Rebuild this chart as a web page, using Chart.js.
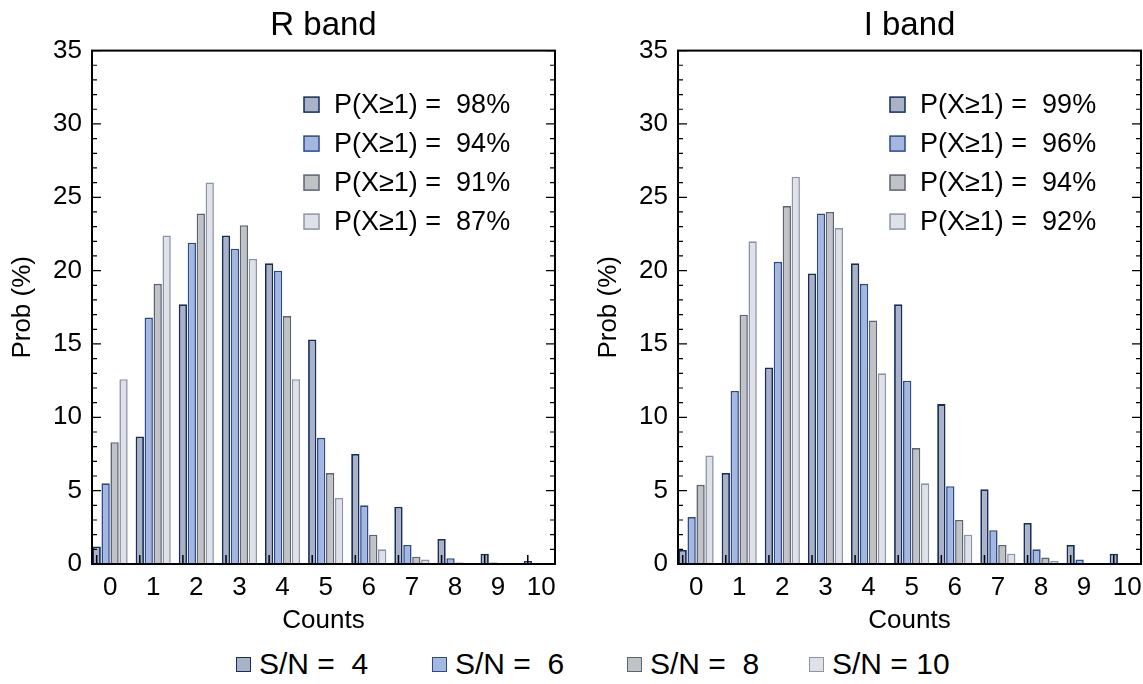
<!DOCTYPE html>
<html lang="en">
<head>
    <meta charset="UTF-8">
    <title>R band / I band counts</title>
    <script src="https://cdn.jsdelivr.net/npm/chart.js"></script>
    <style>
        body {
            margin: 0;
            width: 1143px;
            height: 684px;
            background-color: #fff;
            position: relative;
            overflow: hidden;
            font-family: "Liberation Sans", Arial, Helvetica, sans-serif;
        }
        canvas {
            position: absolute;
            top: 0;
        }
        #chartR { left: 0; }
        #chartI { left: 586px; }
        .legend-item {
            position: absolute;
            top: 646px;
            height: 36px;
            display: flex;
            align-items: center;
            font-size: 30px;
            white-space: pre;
            color: #000;
        }
        .legend-item span.box {
            display: inline-block;
            width: 13px;
            height: 13px;
            border: 1.5px solid;
            margin-right: 8px;
        }
    </style>
</head>
<body>
    <canvas id="chartR" width="575" height="640"></canvas>
    <canvas id="chartI" width="575" height="640"></canvas>
    <div id="legend"></div>

    <script>
        // Dados
        const counts = [0, 1, 2, 3, 4, 5, 6, 7, 8, 9, 10];
        const snLabels = ['S/N =  4', 'S/N =  6', 'S/N =  8', 'S/N = 10'];

        // R band
        const rSn4 = [1.2, 8.7, 17.7, 22.4, 20.5, 15.3, 7.5, 3.9, 1.7, 0.7, 0.2];
        const rSn6 = [5.5, 16.8, 21.9, 21.5, 20.0, 8.6, 4.0, 1.3, 0.4, 0.1, 0.05];
        const rSn8 = [8.3, 19.1, 23.9, 23.1, 16.9, 6.2, 2.0, 0.5, 0.1, 0.02, 0];
        const rSn10 = [12.6, 22.4, 26.0, 20.8, 12.6, 4.5, 1.0, 0.3, 0.05, 0, 0];
        const rProb = ['98%', '94%', '91%', '87%'];

        // I band
        const iSn4 = [0.95, 6.2, 13.4, 19.8, 20.5, 17.7, 10.9, 5.1, 2.8, 1.3, 0.7];
        const iSn6 = [3.2, 11.8, 20.6, 23.9, 19.1, 12.5, 5.3, 2.3, 1.0, 0.3, 0.05];
        const iSn8 = [5.4, 17.0, 24.4, 24.0, 16.6, 7.9, 3.0, 1.3, 0.45, 0.05, 0];
        const iSn10 = [7.4, 22.0, 26.4, 22.9, 13.0, 5.5, 2.0, 0.7, 0.2, 0, 0];
        const iProb = ['99%', '96%', '94%', '92%'];

        const yTicks = [0, 5, 10, 15, 20, 25, 30, 35];

        const fills = ['#a9b2c6', '#a3b7e0', '#c1c2c6', '#dfe1e8'];
        const borders = ['#152d5c', '#2b4a8c', '#5b6375', '#8e94a8'];
        const borderWidths = [1.8, 1.6, 1.6, 1.6];

        const fontFamily = '"Liberation Sans", Arial, Helvetica, sans-serif';
        Chart.defaults.font.family = fontFamily;
        Chart.defaults.color = '#000';

        // moldura, ticks internos e legenda interna
        const framePlugin = {
            id: 'frame',
            afterDatasetsDraw(chart, args, opts) {
                const ctx = chart.ctx;
                const a = chart.chartArea;
                const y = chart.scales.y;
                ctx.save();
                ctx.strokeStyle = '#000';
                ctx.lineWidth = 1.2;
                for (let v = 0; v <= 35; v++) {
                    const py = y.getPixelForValue(v);
                    const len = v % 5 === 0 ? 9 : 5;
                    ctx.beginPath();
                    ctx.moveTo(a.left, py);
                    ctx.lineTo(a.left + len, py);
                    ctx.moveTo(a.right, py);
                    ctx.lineTo(a.right - len, py);
                    ctx.stroke();
                }
                // ticks do eixo x no centro da primeira barra de cada grupo
                const first = chart.getDatasetMeta(0).data;
                ctx.lineWidth = 1.5;
                first.forEach(bar => {
                    ctx.beginPath();
                    ctx.moveTo(bar.x, a.bottom);
                    ctx.lineTo(bar.x, a.bottom - 9);
                    ctx.stroke();
                });
                ctx.lineWidth = 2;
                ctx.strokeRect(a.left, a.top, a.right - a.left, a.bottom - a.top);

                // legenda interna
                const x0 = a.right - 251;
                ctx.font = '27px ' + fontFamily;
                ctx.textBaseline = 'middle';
                opts.probs.forEach((p, i) => {
                    const cy = a.top + 54 + i * 39;
                    ctx.fillStyle = fills[i];
                    ctx.fillRect(x0, cy - 7.5, 15, 15);
                    ctx.strokeStyle = borders[i];
                    ctx.lineWidth = 1.5;
                    ctx.strokeRect(x0, cy - 7.5, 15, 15);
                    ctx.fillStyle = '#000';
                    ctx.fillText('P(X\u22651) =  ' + p, x0 + 30, cy + 1);
                });
                ctx.restore();
            }
        };

        function makeChart(id, title, series, probs) {
            const ctx = document.getElementById(id).getContext('2d');
            return new Chart(ctx, {
                type: 'bar',
                data: {
                    datasets: series.map((s, i) => ({
                        label: snLabels[i],
                        data: counts.map((c, k) => ({ x: c, y: s[k] })),
                        backgroundColor: fills[i],
                        borderColor: borders[i],
                        borderWidth: borderWidths[i],
                        categoryPercentage: 0.83,
                        barPercentage: 0.93
                    }))
                },
                options: {
                    responsive: false,
                    animation: false,
                    devicePixelRatio: 1,
                    layout: { padding: { left: 0, right: 20, top: 0, bottom: 0 } },
                    plugins: {
                        legend: { display: false },
                        tooltip: { enabled: false },
                        title: {
                            display: true,
                            text: title,
                            fullSize: false,
                            font: { size: 33, weight: 'normal' },
                            color: '#000',
                            padding: { top: 6, bottom: 5 }
                        },
                        frame: { probs: probs }
                    },
                    scales: {
                        x: {
                            type: 'linear',
                            offset: false,
                            min: -0.42,
                            max: 10.32,
                            grid: { display: false, drawTicks: false, offset: false },
                            border: { display: false },
                            afterBuildTicks: s => { s.ticks = counts.map(v => ({ value: v })); },
                            afterFit: s => { s.height = 76; },
                            ticks: {
                                font: { size: 26 },
                                color: '#000',
                                padding: 8,
                                maxRotation: 0,
                                autoSkip: false
                            },
                            title: {
                                display: true,
                                text: 'Counts',
                                font: { size: 26 },
                                color: '#000',
                                padding: { top: 0, bottom: 4 }
                            }
                        },
                        y: {
                            min: 0,
                            max: 35,
                            grid: { display: false, drawTicks: false },
                            border: { display: false },
                            afterBuildTicks: s => { s.ticks = yTicks.map(v => ({ value: v })); },
                            afterFit: s => { s.width = 92; },
                            ticks: {
                                font: { size: 26 },
                                color: '#000',
                                padding: 10
                            },
                            title: {
                                display: true,
                                text: 'Prob (%)',
                                font: { size: 26 },
                                color: '#000',
                                padding: { top: 7, bottom: 0 }
                            }
                        }
                    }
                },
                plugins: [framePlugin]
            });
        }

        makeChart('chartR', 'R band', [rSn4, rSn6, rSn8, rSn10], rProb);
        makeChart('chartI', 'I band', [iSn4, iSn6, iSn8, iSn10], iProb);

        // legenda inferior
        const legendPos = [236, 432, 627, 809];
        const legend = document.getElementById('legend');
        snLabels.forEach((t, i) => {
            const item = document.createElement('div');
            item.className = 'legend-item';
            item.style.left = legendPos[i] + 'px';
            const box = document.createElement('span');
            box.className = 'box';
            box.style.background = fills[i];
            box.style.borderColor = borders[i];
            item.appendChild(box);
            item.appendChild(document.createTextNode(t));
            legend.appendChild(item);
        });
    </script>
</body>
</html>
